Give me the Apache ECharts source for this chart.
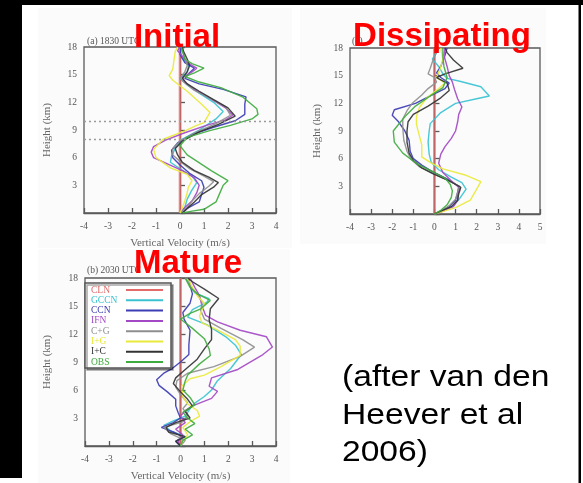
<!DOCTYPE html>
<html><head><meta charset="utf-8">
<script src="https://cdn.jsdelivr.net/npm/echarts/dist/echarts.min.js"></script>
<style>html,body{margin:0;padding:0;background:#fff;overflow:hidden}#c{width:583px;height:483px}</style>
</head><body><div id="c"></div>
<script>
// ---- DATA: [vertical velocity (m/s), height (km)] ----
const seriesNames = ['CLN','GCCN','CCN','IFN','C+G','I+G','I+C','OBS'];
const panelTitles = ['Initial','Mature','Dissipating'];
const panelLabels = ['(a) 1830 UTC','(b) 2030 UTC','(c)'];
const captionLines = ['(after van den','Heever et al','2006)'];
const refLevels = [10, 8];

// (a) Initial
const ini_CLN  = [[0,0],[0,18]];
const ini_GCCN = [[0,0],[0.2,0.6],[0.3,1.5],[0.5,2.5],[0.7,3.3],[0.5,4.0],[0.0,4.8],[-0.4,5.5],[-0.35,6.2],[-0.2,7.0],[0.1,8.0],[0.8,9.0],[1.5,10.2],[1.8,11.0],[1.4,12.0],[0.8,13.0],[0.3,13.9],[0.0,14.6],[0.3,15.3],[0.35,16.0],[0.1,16.8],[0.0,17.6],[0.05,18]];
const ini_CCN  = [[0.1,0],[0.3,0.5],[0.8,1.2],[0.9,2.0],[1.0,2.8],[0.9,3.5],[0.4,4.3],[0.0,5.2],[-0.3,6.0],[-0.35,6.8],[-0.1,7.6],[0.5,8.5],[1.4,9.3],[2.3,10.0],[2.7,10.7],[2.7,11.8],[2.75,12.6],[1.8,13.4],[0.8,14.0],[0.2,14.6],[0.4,15.2],[0.6,15.7],[0.2,16.3],[0.0,17.2],[0.05,18]];
const ini_IFN  = [[0,0],[0.2,0.6],[0.5,1.3],[0.7,2.2],[0.8,3.0],[0.6,3.8],[0.1,4.6],[-0.5,5.3],[-1.1,6.0],[-1.2,6.6],[-1.1,7.2],[-0.6,7.9],[0.2,8.7],[1.1,9.5],[1.9,10.1],[2.2,10.6],[1.9,11.4],[1.2,12.5],[0.6,13.4],[0.2,14.2],[0.1,14.7],[0.5,15.3],[0.7,15.7],[0.3,16.3],[0.1,17.0],[-0.1,17.6],[0,18]];
const ini_CG   = [[0,0],[0.3,0.6],[0.5,1.3],[0.8,2.1],[1.2,2.9],[1.4,3.4],[1.0,4.0],[0.4,4.8],[0.0,5.6],[-0.3,6.3],[-0.3,7.0],[0.0,7.8],[0.7,8.8],[1.5,9.7],[2.1,10.6],[1.9,11.5],[1.2,12.5],[0.6,13.3],[0.2,14.1],[0.0,14.6],[0.2,15.3],[0.3,16.0],[0.2,16.8],[0.1,17.6],[0.1,18]];
const ini_IG   = [[0,0],[0.1,0.6],[0.2,1.3],[0.3,2.2],[0.35,2.8],[0.5,3.5],[0.3,4.2],[-0.4,4.9],[-1.0,6.0],[-1.1,6.9],[-0.7,8.0],[0.2,8.9],[0.7,9.5],[1.0,9.8],[1.25,10.9],[0.9,11.8],[0.3,13.2],[-0.3,14.4],[-0.45,14.9],[-0.3,15.6],[-0.25,16.6],[-0.2,17.5],[-0.1,18]];
const ini_IC   = [[0.1,0],[0.3,0.5],[0.6,1.2],[0.9,2.0],[1.4,2.8],[1.6,3.3],[1.2,3.9],[0.6,4.6],[0.1,5.5],[-0.1,6.3],[-0.2,7.0],[0.1,7.8],[0.8,8.8],[1.6,9.6],[2.3,10.5],[2.0,11.4],[1.4,12.3],[0.8,13.2],[0.3,14.0],[0.1,14.6],[0.3,15.3],[0.4,16.0],[0.3,16.7],[0.15,17.5],[0.1,18]];
const ini_OBS  = [[0.1,0],[0.5,0.2],[1.0,0.4],[1.5,1.2],[1.65,2.1],[1.8,3.0],[2.0,3.5],[1.3,4.6],[0.3,6.3],[0.0,7.3],[0.3,8.2],[1.2,8.9],[2.1,9.5],[3.0,10.2],[3.25,10.7],[3.2,11.3],[2.6,12.6],[1.7,13.6],[0.8,14.2],[0.2,14.8],[0.6,15.2],[1.0,15.7],[0.5,16.2],[0.2,16.7],[0.1,17.6],[0.05,18]];

// (b) Mature
const mat_CLN  = [[0,0],[0,18]];
const mat_GCCN = [[0,0],[-0.2,0.5],[0.2,1.0],[-0.4,1.6],[-0.7,2.2],[-0.3,2.7],[0.2,3.2],[0.4,4.0],[0.6,4.6],[1.0,5.3],[1.3,6.0],[1.55,7.0],[2.1,8.3],[2.55,9.8],[2.3,10.8],[1.9,11.7],[1.1,13.0],[0.3,13.8],[0.5,14.6],[1.1,15.4],[1.2,15.8],[0.6,16.4],[0.4,17.2],[0.3,18]];
const mat_CCN  = [[0,0],[-0.2,0.5],[0.1,1.0],[-0.3,1.5],[-0.8,2.0],[-0.3,2.5],[0.0,3.0],[-0.1,3.6],[-0.2,4.3],[-0.2,5.0],[-0.55,5.8],[-0.9,6.5],[-1.0,7.1],[-0.7,7.8],[-0.35,8.3],[0.0,9.0],[0.35,9.8],[0.35,10.8],[0.4,12.4],[0.15,13.6],[0.1,14.3],[0.4,15.3],[0.5,16.3],[0.4,17.2],[0.35,18]];
const mat_IFN  = [[0,0],[-0.1,0.5],[0.1,1.2],[-0.2,1.8],[0.2,2.5],[0.0,3.2],[0.2,3.8],[0.5,4.3],[1.3,5.1],[1.55,5.85],[1.2,6.4],[1.3,7.3],[2.4,8.2],[3.4,9.7],[3.85,10.6],[3.6,11.7],[2.5,12.4],[1.55,13.3],[1.05,14.0],[0.9,15.0],[0.8,16.1],[0.6,17.0],[0.4,18]];
const mat_CG   = [[0,0],[0.2,0.6],[-0.4,1.3],[-0.7,2.0],[0.1,2.6],[0.3,3.3],[0.1,4.0],[0.3,4.6],[0.0,5.5],[-0.2,6.3],[-0.15,7.0],[0.3,7.8],[1.4,8.5],[2.5,9.6],[3.1,10.6],[2.6,11.4],[1.7,12.6],[1.0,13.6],[0.85,14.5],[0.9,15.4],[0.7,16.3],[0.4,17.2],[0.2,18]];
const mat_IG   = [[0,0],[0.1,0.5],[0.3,1.2],[0.1,2.0],[0.4,2.6],[0.8,3.2],[0.7,3.8],[0.3,4.5],[0.1,5.3],[0.05,6.4],[0.4,7.2],[1.0,7.6],[1.7,8.5],[2.5,9.7],[2.5,10.7],[2.3,11.4],[1.5,12.5],[0.9,13.2],[0.8,13.9],[0.9,14.6],[1.0,15.3],[0.7,16.1],[0.5,17.0],[0.3,18]];
const mat_IC   = [[0,0],[-0.2,0.5],[0.2,1.0],[-0.5,1.5],[-0.6,2.0],[-0.2,2.5],[0.4,3.0],[0.2,3.7],[0.5,4.3],[0.3,5.0],[0.0,5.8],[-0.3,6.7],[-0.2,7.3],[0.2,8.2],[0.7,9.3],[1.0,10.4],[1.3,11.4],[1.3,12.5],[1.2,13.5],[1.25,14.7],[1.6,15.8],[1.0,16.8],[0.5,17.6],[0.3,18]];
const mat_OBS  = [[0,0],[0.1,0.6],[0.5,1.2],[0.2,1.8],[0.6,2.4],[0.3,3.0],[0.1,3.6],[0.6,4.4],[0.4,5.2],[0.1,6.0],[0.2,7.0],[0.3,7.6],[0.8,8.8],[1.25,9.7],[1.2,10.4],[1.0,11.5],[0.5,12.6],[0.0,13.6],[0.4,14.2],[0.85,14.7],[1.25,15.6],[0.7,16.3],[0.4,17.0],[0.2,18]];

// (c) Dissipating
const dis_CLN  = [[0,0],[0,18]];
const dis_GCCN = [[0,0],[0.3,0.3],[0.9,0.9],[1.2,1.7],[1.5,2.7],[1.3,3.4],[0.8,4.0],[0.2,4.8],[-0.15,5.6],[-0.25,6.5],[-0.3,7.8],[-0.25,9.0],[-0.2,9.8],[0.3,11.0],[1.0,12.0],[2.0,12.5],[2.6,12.8],[2.2,13.8],[1.2,14.4],[0.6,14.7],[0.4,15.2],[0.2,16.0],[-0.1,16.8],[0.1,17.5],[0.2,18]];
const dis_CCN  = [[0,0],[0.3,0.3],[0.7,0.8],[1.0,1.5],[1.1,2.3],[1.15,3.0],[0.6,3.8],[-0.1,4.6],[-0.6,5.3],[-1.0,6.0],[-1.15,6.8],[-1.2,8.0],[-1.4,9.0],[-1.7,10.0],[-2.0,10.7],[-1.9,11.3],[-0.9,12.0],[-0.2,12.8],[0.5,13.6],[0.7,14.2],[0.3,14.8],[0.1,15.3],[0.3,16.0],[0.5,17.2],[0.6,18]];
const dis_IFN  = [[0,0],[0.4,0.3],[0.9,0.8],[1.1,1.5],[1.1,2.2],[1.2,2.8],[0.8,3.6],[0.4,4.5],[0.2,5.5],[0.3,6.5],[0.5,7.3],[0.8,8.2],[1.0,9.0],[1.1,10.0],[1.15,10.8],[1.3,11.6],[1.1,12.5],[0.95,13.5],[0.85,14.3],[0.7,15.0],[0.6,16.0],[0.45,17.2],[0.5,18]];
const dis_CG   = [[0,0],[0.3,0.3],[0.7,0.9],[1.0,1.6],[1.1,2.4],[1.2,3.0],[0.6,3.7],[-0.1,4.4],[-0.7,5.1],[-1.1,5.9],[-1.3,6.8],[-1.45,8.0],[-1.5,9.3],[-1.5,10.3],[-1.3,11.2],[-1.05,12.0],[-0.6,12.9],[-0.3,13.6],[0.1,14.3],[0.0,14.8],[-0.3,15.2],[-0.2,15.8],[-0.05,16.8],[0.2,18]];
const dis_IG   = [[0,0],[0.3,0.2],[1.0,0.7],[1.7,1.5],[1.9,2.3],[2.2,3.5],[1.5,4.2],[0.4,4.9],[-0.2,5.6],[-0.6,6.2],[-0.6,7.5],[-0.75,8.8],[-0.85,9.7],[-0.85,10.6],[-0.7,11.6],[-0.35,12.6],[0.2,13.6],[0.5,14.2],[0.1,14.8],[0.25,15.6],[0.4,16.8],[0.3,18]];
const dis_IC   = [[0,0],[0.3,0.3],[0.8,0.8],[1.1,1.5],[1.15,2.2],[1.25,2.9],[0.7,3.6],[0.0,4.3],[-0.6,5.0],[-1.0,5.8],[-1.2,6.6],[-1.3,7.8],[-1.3,9.0],[-1.25,10.0],[-1.0,10.8],[-0.3,11.7],[0.3,12.6],[0.7,13.4],[0.6,14.2],[0.1,14.8],[0.5,15.2],[1.35,15.8],[0.9,16.7],[0.6,17.5],[0.5,18]];
const dis_OBS  = [[0,0],[0.3,0.4],[0.6,1.0],[0.8,1.8],[0.85,2.5],[0.75,3.2],[0.5,3.9],[0.0,4.5],[-0.8,5.4],[-1.5,6.6],[-1.9,7.8],[-1.95,9.0],[-1.6,10.0],[-1.3,10.8],[-0.9,11.7],[-0.2,12.8],[0.4,13.7],[0.6,14.8],[0.45,16.0],[0.4,17.0],[0.4,18]];

// ---- chart ----
const colorOf = {'CLN':'#e26a6a','GCCN':'#38c2d2','CCN':'#3c3cb4','IFN':'#a449c6','C+G':'#8f8f8f','I+G':'#e9e93c','I+C':'#343434','OBS':'#3fac3f'};
const panelData = [
  [ini_CLN,ini_GCCN,ini_CCN,ini_IFN,ini_CG,ini_IG,ini_IC,ini_OBS],
  [mat_CLN,mat_GCCN,mat_CCN,mat_IFN,mat_CG,mat_IG,mat_IC,mat_OBS],
  [dis_CLN,dis_GCCN,dis_CCN,dis_IFN,dis_CG,dis_IG,dis_IC,dis_OBS]
];
const xRange = [[-4,4],[-4,4],[-4,5]];
const SERIF = '"Liberation Serif","DejaVu Serif",serif';
const SANS = '"Liberation Sans",Arial,sans-serif';
const axisCol = '#5a5a5a';

const grids = [
  {left:84, top:47, width:192, height:166},
  {left:85, top:278, width:191, height:168.5},
  {left:350, top:48, width:190, height:166}
].map(g => Object.assign(g, {show:true, borderColor:axisCol, borderWidth:1.3, backgroundColor:'transparent'}));

const xAxes = xRange.map((r,i) => ({
  type:'value', gridIndex:i, min:r[0], max:r[1], interval:1,
  axisLine:{show:true, lineStyle:{color:axisCol, width:1.3}},
  axisTick:{show:true, inside:true, length:5, lineStyle:{color:axisCol, width:1.3}},
  axisLabel:{fontFamily:SERIF, fontSize:9.5, color:'#555', margin:8},
  splitLine:{show:false},
  name: i===2 ? '' : 'Vertical Velocity (m/s)', nameLocation:'middle', nameGap:25,
  nameTextStyle:{fontFamily:SERIF, fontSize:11, color:'#666'}
}));
const yAxes = [31, 32, 27].map((gap,i) => ({
  type:'value', gridIndex:i, min:0, max:18, interval:3,
  axisLine:{show:true, lineStyle:{color:axisCol, width:1.3}},
  axisTick:{show:true, inside:true, length:5, lineStyle:{color:axisCol, width:1.3}},
  axisLabel:{fontFamily:SERIF, fontSize:9.5, color:'#555', margin:7, formatter:v => v===0 ? '' : String(v)},
  splitLine:{show:false},
  name:'Height (km)', nameLocation:'middle', nameGap:gap,
  nameTextStyle:{fontFamily:SERIF, fontSize:11, color:'#666'}
}));

const series = [];
panelData.forEach((arrs, p) => {
  arrs.forEach((d, k) => {
    const n = seriesNames[k];
    const s = {
      type:'line', name:n, xAxisIndex:p, yAxisIndex:p, data:d,
      symbol:'none', showSymbol:false, animation:false, silent:true,
      lineStyle:{color:colorOf[n], width: n==='CLN' ? 2.6 : 1.4, opacity: n==='CLN' ? 0.75 : 0.92},
      itemStyle:{color:colorOf[n]}, z: n==='CLN' ? 1 : 2
    };
    if (p===0 && n==='CLN') {
      s.markLine = {silent:true, symbol:'none', label:{show:false}, animation:false,
        lineStyle:{color:'#9a9a9a', type:[2,3], width:1.3},
        data: refLevels.map(v => ({yAxis:v}))};
    }
    series.push(s);
  });
});

const bg = [
  {type:'rect', shape:{x:38,y:8,width:254,height:240}, style:{fill:'#fbfbfb'}, z:-10},
  {type:'rect', shape:{x:300,y:8,width:246,height:236}, style:{fill:'#fbfbfb'}, z:-10},
  {type:'rect', shape:{x:38,y:249,width:252,height:234}, style:{fill:'#fbfbfb'}, z:-10},
  {type:'rect', shape:{x:0,y:0,width:583,height:5}, style:{fill:'#000'}, z:50},
  {type:'rect', shape:{x:0,y:0,width:22,height:478}, style:{fill:'#000'}, z:50},
  {type:'rect', shape:{x:578.5,y:0,width:2.5,height:483}, style:{fill:'#000'}, z:50}
];
const labels = [
  {type:'text', x:87, y:41, style:{text:panelLabels[0], font:'9.5px '+SERIF, fill:'#555', verticalAlign:'middle'}, z:5},
  {type:'text', x:87, y:270, style:{text:panelLabels[1], font:'9.5px '+SERIF, fill:'#555', verticalAlign:'middle'}, z:5},
  {type:'text', x:352, y:41, style:{text:panelLabels[2], font:'9.5px '+SERIF, fill:'#555', verticalAlign:'middle'}, z:5}
];
const titlePos = [[177,38],[188,264],[442,37]];
const titles = panelTitles.map((t,i) => ({type:'text', x:titlePos[i][0], y:titlePos[i][1],
  style:{text:t, font:'bold 33px '+SANS, fill:'#ff0000', align:'center', verticalAlign:'middle'}, z:60}));
const caption = captionLines.map((t,i) => ({type:'text', x:342, y:378 + i*37.5, scaleX:1.12, originX:0,
  style:{text:t, font:'30px '+SANS, fill:'#000', verticalAlign:'middle'}, z:60}));

const chart = echarts.init(document.getElementById('c'), null, {renderer:'canvas'});
chart.setOption({
  animation:false,
  backgroundColor:'#fff',
  grid:grids, xAxis:xAxes, yAxis:yAxes, series:series,
  legend:{
    orient:'vertical', left:85, top:283, align:'right', selectedMode:false,
    icon:'rect', itemWidth:37, itemHeight:2, itemGap:0.3,
    padding:[2,8,1,6], backgroundColor:'#fff', borderColor:'#555', borderWidth:1.5,
    shadowColor:'rgba(0,0,0,0.35)', shadowOffsetX:2, shadowOffsetY:2, shadowBlur:0,
    formatter: n => '{t|' + n + '}',
    textStyle:{fontFamily:SERIF, fontSize:9.5, lineHeight:10, padding:0,
      rich:{t:{width:30, align:'left', fontFamily:SERIF, fontSize:9.5, lineHeight:10}}},
    data: seriesNames.map(n => ({name:n, textStyle:{color:colorOf[n]}}))
  },
  graphic: bg.concat(labels, titles, caption)
});
</script></body></html>
